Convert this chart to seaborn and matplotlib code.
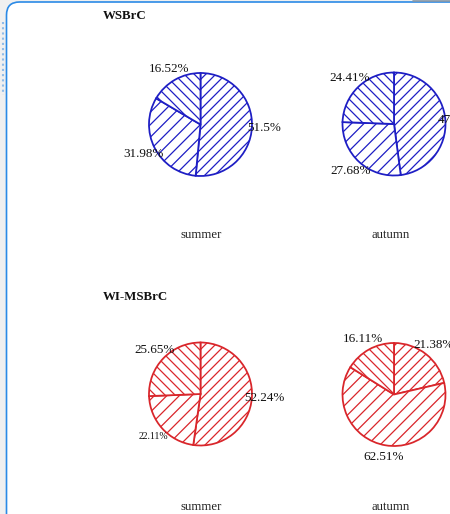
import numpy as np
import matplotlib
matplotlib.use("Agg")
import matplotlib.pyplot as plt
from matplotlib.patches import FancyBboxPatch
import seaborn as sns

# --- data -------------------------------------------------------------
seasons = ["summer", "autumn"]
groups = ["WSBrC", "WI-MSBrC"]
wsbrc_summer = [51.5, 31.98, 16.52]
wsbrc_autumn = [47.91, 27.68, 24.41]
wimsbrc_summer = [52.24, 22.11, 25.65]
wimsbrc_autumn = [21.38, 62.51, 16.11]

# --- style ------------------------------------------------------------
sns.set_style("white")
plt.rcParams["font.family"] = ["Liberation Serif", "DejaVu Serif"]
plt.rcParams["hatch.linewidth"] = 0.6

W, H, DPI = 450, 514, 150
fig = plt.figure(figsize=(W / DPI, H / DPI), dpi=DPI, facecolor="#f0f0f0")
ax = fig.add_axes([0, 0, 1, 1])
ax.set_facecolor("none")


def Y(y):
    """Top-down pixel row to upward data coordinate."""
    return H - y


# panel frame
frame = FancyBboxPatch((6.5, -30), 480, Y(2) + 30,
                       boxstyle="round,pad=0,rounding_size=13",
                       facecolor="white", edgecolor="#2b8ae6", linewidth=0.8,
                       zorder=0)
ax.add_patch(frame)
ax.plot([2.5, 2.5], [Y(22), Y(95)], color="#8fbbe8", lw=1.0,
        ls=(0, (1, 1.5)), zorder=0)
ax.plot([413, 450], [Y(0.5), Y(0.5)], color="#8796a5", lw=0.8, zorder=0)

blue = "#1e1ec4"
red = "#d9262b"
hatches = ["/////", "////", "\\" * 5]
radius = 51.5

panels = [
    # values, centre (px), colour, label sizes
    (wsbrc_summer, (200.5, 124.5), blue, [6.3, 6.3, 6.3]),
    (wsbrc_autumn, (394, 124), blue, [6.3, 6.3, 6.3]),
    (wimsbrc_summer, (200.5, 394), red, [6.3, 4.7, 6.3]),
    (wimsbrc_autumn, (394, 394.5), red, [6.3, 6.3, 6.3]),
]

for vals, (cx, cy), col, sizes in panels:
    wedges, _ = ax.pie(vals, center=(cx, Y(cy)), radius=radius,
                       startangle=90, counterclock=False,
                       colors=["white"] * len(vals), hatch=hatches,
                       wedgeprops=dict(edgecolor=col, linewidth=0.85),
                       frame=True)
    # percentage labels at each wedge's mid angle
    cum = np.cumsum([0] + list(vals))
    total = cum[-1]
    for v, start, fs in zip(vals, cum[:-1], sizes):
        mid = np.deg2rad(90 - 360 * (start + v / 2) / total)
        lx = cx + 1.24 * radius * np.cos(mid)
        ly = Y(cy) + 1.24 * radius * np.sin(mid)
        ax.text(lx, ly, f"{v:g}%", ha="center", va="center",
                fontsize=fs, color="#111111", zorder=5)

# group titles
for g, ty in zip(groups, [16, 297]):
    ax.text(103, Y(ty), g, ha="left", va="center", fontsize=6.2,
            fontweight="bold", color="#111111")

# season captions
for row_y in [235, 507]:
    for s, sx in zip(seasons, [201, 391]):
        ax.text(sx, Y(row_y), s, ha="center", va="center", fontsize=6.1,
                color="#222222")

ax.set_xlim(0, W)
ax.set_ylim(0, H)
ax.set_aspect("equal")
ax.axis("off")

fig.savefig("out.png", dpi=DPI, facecolor=fig.get_facecolor())
